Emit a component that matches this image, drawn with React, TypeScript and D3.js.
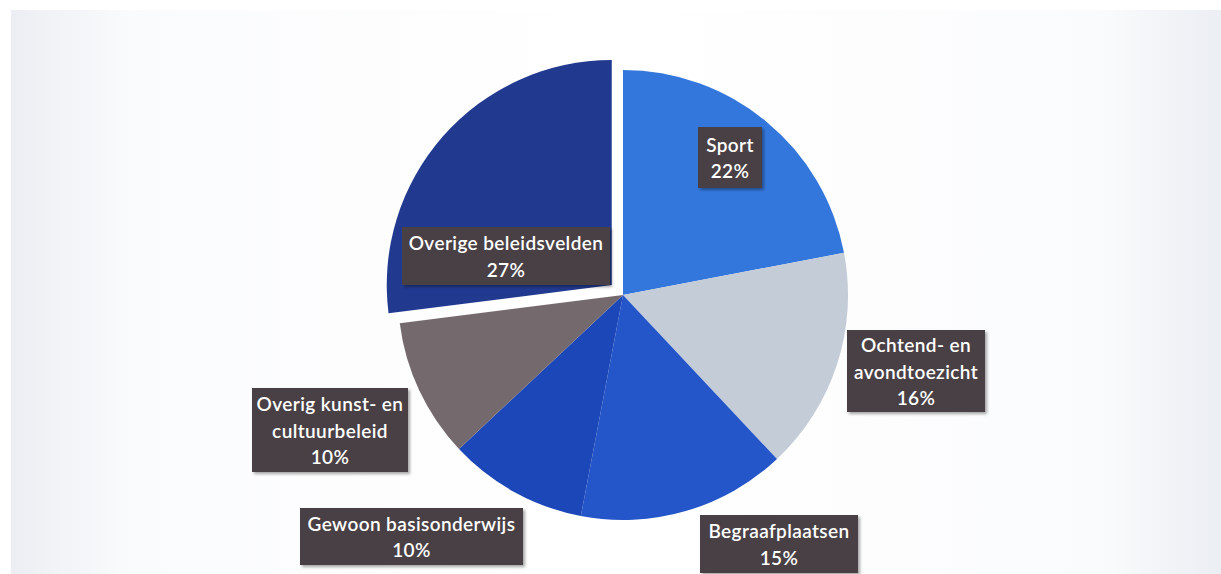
import React from "react";
import * as d3 from "d3";

const categories = [
  "Sport",
  "Ochtend- en avondtoezicht",
  "Begraafplaatsen",
  "Gewoon basisonderwijs",
  "Overig kunst- en cultuurbeleid",
  "Overige beleidsvelden",
];
const values = [22, 16, 15, 10, 10, 27];
const labelLines = [
  ["Sport"],
  ["Ochtend- en", "avondtoezicht"],
  ["Begraafplaatsen"],
  ["Gewoon basisonderwijs"],
  ["Overig kunst- en", "cultuurbeleid"],
  ["Overige beleidsvelden"],
];
const colors = ["#3477dc", "#c4ccd7", "#2456c9", "#1c47b9", "#74696d", "#213a90"];
const exploded = [false, false, false, false, false, true];
// label boxes: [x0, y0, x1, y1]
const labelBoxes = [
  [698, 127, 762, 188],
  [847, 330, 985, 412],
  [700, 515, 858, 573],
  [300, 508, 523, 565],
  [252, 388, 408, 472],
  [402, 227, 610, 285],
];

const W = 1221;
const H = 574;
const cx = 623;
const cy = 295;
const R = 225;
const explode = 15;

export default function App() {
  const pie = d3
    .pie<number>()
    .sort(null)
    .startAngle(0)
    .endAngle(2 * Math.PI)
    .value((d) => d);
  const arcs = pie(values);
  const arc = d3.arc<d3.PieArcDatum<number>>().innerRadius(0).outerRadius(R);
  const lineH = 26.5;

  return (
    <svg
      width={W}
      height={H}
      style={{ position: "absolute", left: 0, top: 0 }}
      fontFamily="Lato, 'Open Sans', sans-serif"
    >
      <defs>
        <linearGradient id="bg" x1="0" x2="1" y1="0" y2="0">
          <stop offset="0" stopColor="#eceef3" />
          <stop offset="0.1" stopColor="#fafbfc" />
          <stop offset="0.5" stopColor="#ffffff" />
          <stop offset="0.9" stopColor="#fafbfc" />
          <stop offset="1" stopColor="#ebeef3" />
        </linearGradient>
        <filter id="sh" x="-10%" y="-10%" width="130%" height="140%">
          <feDropShadow dx="2" dy="2" stdDeviation="1.5" floodColor="#000" floodOpacity="0.35" />
        </filter>
      </defs>
      <rect x={0} y={0} width={W} height={H} fill="#ffffff" />
      <rect x={11} y={10} width={W - 11} height={H - 10} fill="url(#bg)" />
      <g transform={`translate(${cx},${cy})`}>
        {arcs.map((a, i) => {
          const mid = (a.startAngle + a.endAngle) / 2;
          const off = exploded[i] ? explode : 0;
          const dx = Math.sin(mid) * off;
          const dy = -Math.cos(mid) * off;
          return (
            <path
              key={categories[i]}
              d={arc(a) || ""}
              fill={colors[i]}
              transform={`translate(${dx},${dy})`}
            />
          );
        })}
      </g>
      {labelBoxes.map((b, i) => {
        const [x0, y0, x1, y1] = b;
        const lines = [...labelLines[i], `${values[i]}%`];
        const mx = (x0 + x1) / 2;
        const my = (y0 + y1) / 2;
        const startY = my - ((lines.length - 1) * lineH) / 2;
        return (
          <g key={"l" + i}>
            <rect
              x={x0}
              y={y0}
              width={x1 - x0}
              height={y1 - y0}
              fill="#4a3f45"
              filter="url(#sh)"
            />
            {lines.map((t, j) => (
              <text
                key={j}
                x={mx}
                y={startY + j * lineH}
                textAnchor="middle"
                dominantBaseline="central"
                fill="#ffffff"
                fontSize={19}
                fontWeight={600}
                letterSpacing={0.4}
              >
                {t}
              </text>
            ))}
          </g>
        );
      })}
    </svg>
  );
}
